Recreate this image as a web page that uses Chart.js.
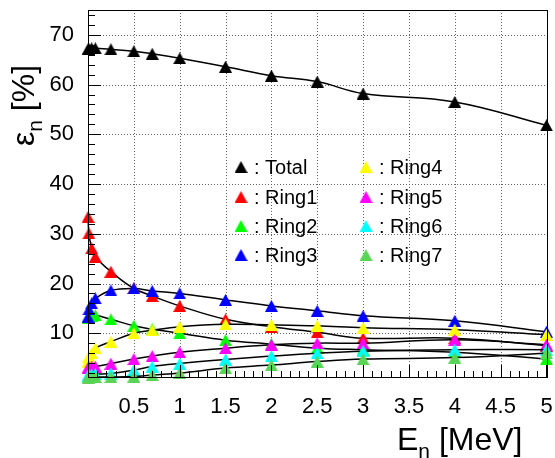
<!DOCTYPE html>
<html>
<head>
<meta charset="utf-8">
<script src="https://cdn.jsdelivr.net/npm/chart.js@4.4.0/dist/chart.umd.min.js"></script>
<style>
  html, body { margin: 0; padding: 0; background: #fff; }
</style>
</head>
<body>
<canvas id="eff" width="555" height="458"></canvas>
<script>
// neutron energy [MeV]
const energies = [0.0001, 0.01, 0.04, 0.08, 0.25, 0.5, 0.7, 1, 1.5, 2, 2.5, 3, 4, 5];

// detection efficiency [%]
const total = [67.1, 67.2, 67.3, 67.3, 67.1, 66.7, 66.2, 65.3, 63.6, 61.8, 60.6, 58.2, 56.5, 51.8];
const ring1 = [33.4, 30.1, 27.1, 25.4, 22.4, 19.0, 17.5, 15.5, 12.8, 11.3, 10.2, 9.0, 9.0, 7.5];
const ring2 = [13.0, 13.3, 13.5, 13.6, 12.8, 11.5, 10.8, 10.0, 8.6, 7.8, 7.0, 6.7, 6.2, 4.8];
const ring3 = [13.3, 14.8, 16.0, 17.0, 18.6, 19.0, 18.5, 18.0, 16.7, 15.5, 14.5, 13.5, 12.5, 10.3];
const ring4 = [4.3, 5.3, 6.0, 7.0, 8.3, 10.0, 10.6, 11.3, 11.8, 11.7, 11.5, 11.1, 10.7, 9.7];
const ring5 = [3.0, 3.2, 3.3, 3.3, 3.9, 4.8, 5.4, 6.2, 7.0, 7.7, 8.0, 8.0, 8.7, 7.7];
const ring6 = [1.5, 1.6, 1.7, 1.8, 1.9, 2.6, 3.3, 3.9, 4.7, 5.4, 6.0, 6.4, 6.7, 6.7];
const ring7 = [1.0, 1.1, 1.2, 1.2, 1.2, 1.3, 1.6, 2.0, 3.0, 3.6, 4.3, 4.8, 5.1, 6.0];

const seriesNames = ['Total', 'Ring1', 'Ring2', 'Ring3', 'Ring4', 'Ring5', 'Ring6', 'Ring7'];
const seriesValues = [total, ring1, ring2, ring3, ring4, ring5, ring6, ring7];
const seriesColors = ['#000000', '#ff0000', '#00ff00', '#0000ff', '#ffff00', '#ff00ff', '#00ffff', '#59d454'];

const xTicks = [0.5, 1, 1.5, 2, 2.5, 3, 3.5, 4, 4.5, 5];
const yTicks = [10, 20, 30, 40, 50, 60, 70];

const FONT = '"Liberation Sans", Arial, Helvetica, sans-serif';

// filled up-triangle, centred on its bounding box
function triangle(color) {
  const c = document.createElement('canvas');
  c.width = 13;
  c.height = 12;
  const g = c.getContext('2d');
  g.fillStyle = color;
  g.beginPath();
  g.moveTo(6.5, 0);
  g.lineTo(13, 12);
  g.lineTo(0, 12);
  g.closePath();
  g.fill();
  return c;
}
const markers = seriesColors.map(triangle);

const datasets = seriesNames.map((name, i) => ({
  label: name,
  data: energies.map((e, k) => ({ x: e, y: seriesValues[i][k] })),
  borderColor: '#000',
  borderWidth: 1.5,
  tension: 0.4,
  pointStyle: markers[i],
  pointRadius: 7,
  clip: false,
  order: seriesNames.length - i
}));

// dotted grid at the labelled ticks
const gridPlugin = {
  id: 'dotgrid',
  beforeDatasetsDraw(chart) {
    const { ctx, chartArea: a, scales: { x, y } } = chart;
    ctx.save();
    ctx.strokeStyle = '#666';
    ctx.lineWidth = 1;
    ctx.setLineDash([1, 2]);
    ctx.beginPath();
    xTicks.forEach(v => {
      const px = Math.round(x.getPixelForValue(v)) + 0.5;
      ctx.moveTo(px, a.bottom);
      ctx.lineTo(px, a.top);
    });
    yTicks.forEach(v => {
      const py = Math.round(y.getPixelForValue(v)) + 0.5;
      ctx.moveTo(a.left, py);
      ctx.lineTo(a.right, py);
    });
    ctx.stroke();
    ctx.restore();
  }
};

// frame, inward minor/major ticks
const framePlugin = {
  id: 'frame',
  afterDatasetsDraw(chart) {
    const { ctx, chartArea: a, scales: { x, y } } = chart;
    ctx.save();
    ctx.strokeStyle = '#000';
    ctx.lineWidth = 1;
    ctx.beginPath();
    for (let v = 0.1; v < 5.001; v += 0.1) {
      const px = Math.round(x.getPixelForValue(v)) + 0.5;
      const major = Math.abs(v * 2 - Math.round(v * 2)) < 1e-6;
      ctx.moveTo(px, a.bottom);
      ctx.lineTo(px, a.bottom - (major ? 12 : 6));
    }
    for (let v = 2; v <= 74; v += 2) {
      const py = Math.round(y.getPixelForValue(v)) + 0.5;
      const major = v % 10 === 0;
      ctx.moveTo(a.left, py);
      ctx.lineTo(a.left + (major ? 13 : 7), py);
    }
    ctx.stroke();
    ctx.strokeRect(Math.round(a.left) + 0.5, Math.round(a.top) + 0.5,
      Math.round(a.right - a.left), Math.round(a.bottom - a.top));
    ctx.restore();
  }
};

// axis titles with subscripts, and the in-frame legend
const labelPlugin = {
  id: 'labels',
  afterDraw(chart) {
    const ctx = chart.ctx;
    ctx.save();
    ctx.fillStyle = '#000';
    ctx.textBaseline = 'alphabetic';
    ctx.textAlign = 'left';

    // x title: E_n [MeV]
    let px = 397;
    ctx.font = '32px ' + FONT;
    ctx.fillText('E', px, 450);
    px += ctx.measureText('E').width;
    ctx.font = '21px ' + FONT;
    ctx.fillText('n', px, 458);
    px += ctx.measureText('n').width;
    ctx.font = '32px ' + FONT;
    ctx.fillText(' [MeV]', px, 450);

    // y title: ε_n [%]
    ctx.translate(34, 146);
    ctx.rotate(-Math.PI / 2);
    let p = 0;
    ctx.font = '32px ' + FONT;
    ctx.fillText('ε', p, 0);
    p += ctx.measureText('ε').width;
    ctx.font = '21px ' + FONT;
    ctx.fillText('n', p, 8);
    p += ctx.measureText('n').width;
    ctx.font = '32px ' + FONT;
    ctx.fillText(' [%]', p, 0);
    ctx.setTransform(1, 0, 0, 1, 0, 0);

    // legend, two columns of four
    ctx.font = '20px ' + FONT;
    const colX = [241, 366];
    const rowY = [167, 197, 226, 255];
    seriesNames.forEach((name, i) => {
      const cx = colX[Math.floor(i / 4)];
      const cy = rowY[i % 4];
      ctx.drawImage(markers[i], cx - 6.5, cy - 6);
      ctx.fillText(': ' + name, cx + 13, cy + 7);
    });
    ctx.restore();
  }
};

new Chart(document.getElementById('eff'), {
  type: 'line',
  data: { datasets },
  options: {
    responsive: false,
    animation: false,
    layout: { padding: { left: 0, right: 7, top: 10, bottom: 0 } },
    plugins: {
      legend: { display: false },
      tooltip: { enabled: false }
    },
    scales: {
      x: {
        type: 'linear',
        min: 0,
        max: 5,
        afterBuildTicks: s => { s.ticks = xTicks.map(v => ({ value: v })); },
        afterFit: s => { s.height = 81; s.paddingLeft = 0; s.paddingRight = 0; },
        ticks: {
          color: '#000',
          font: { family: FONT, size: 22 },
          padding: 9,
          maxRotation: 0,
          autoSkip: false,
          callback: v => String(v)
        },
        grid: { display: false },
        border: { display: false }
      },
      y: {
        type: 'linear',
        min: 1.2,
        max: 75,
        afterBuildTicks: s => { s.ticks = yTicks.map(v => ({ value: v })); },
        afterFit: s => { s.width = 88; s.paddingTop = 0; s.paddingBottom = 0; },
        ticks: {
          color: '#000',
          font: { family: FONT, size: 22 },
          padding: 6,
          callback: v => String(v)
        },
        grid: { display: false },
        border: { display: false }
      }
    }
  },
  plugins: [gridPlugin, framePlugin, labelPlugin]
});
</script>
</body>
</html>
